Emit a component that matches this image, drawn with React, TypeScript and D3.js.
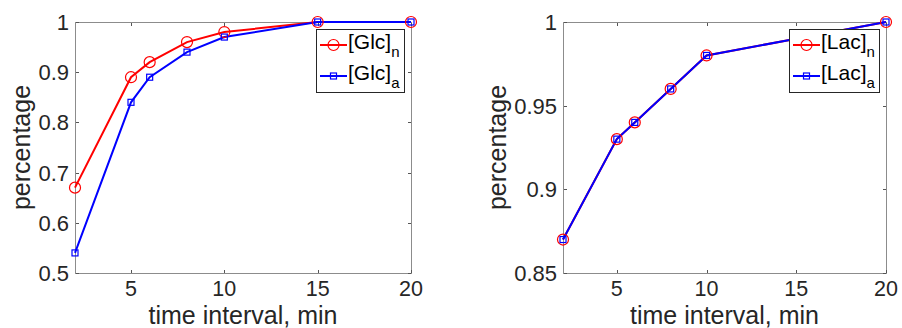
import { useEffect, useRef } from 'react';
import * as d3 from 'd3';

const glcTimes = [2, 5, 6, 8, 10, 15, 20];
const glcN = [0.67, 0.89, 0.92, 0.96, 0.98, 1, 1];
const glcA = [0.54, 0.84, 0.89, 0.94, 0.97, 1, 1];

const lacTimes = [2, 5, 6, 8, 10, 15, 20];
const lacN = [0.87, 0.93, 0.94, 0.96, 0.98, 0.99, 1];
const lacA = [0.87, 0.93, 0.94, 0.96, 0.98, 0.99, 1];

const xTicks = [5, 10, 15, 20];
const glcYTicks = [0.5, 0.6, 0.7, 0.8, 0.9, 1];
const lacYTicks = [0.85, 0.9, 0.95, 1];

const FONT = '"Liberation Sans", Arial, Helvetica, sans-serif';
const TEXT = '#262626';
const RED = '#ff0000';
const BLUE = '#0000ff';

interface Panel {
  left: number;
  right: number;
  yDomain: [number, number];
  yTicks: number[];
  times: number[];
  n: number[];
  a: number[];
  name: string;
  ylabelX: number;
  legendX: number;
  legendW: number;
}

const panels: Panel[] = [
  { left: 75, right: 411, yDomain: [0.5, 1], yTicks: glcYTicks, times: glcTimes, n: glcN, a: glcA,
    name: '[Glc]', ylabelX: 30, legendX: 316, legendW: 88 },
  { left: 563, right: 886, yDomain: [0.85, 1], yTicks: lacYTicks, times: lacTimes, n: lacN, a: lacA,
    name: '[Lac]', ylabelX: 506, legendX: 789, legendW: 90 },
];

export default function App() {
  const svgRef = useRef<SVGSVGElement>(null);

  useEffect(() => {
    if (!svgRef.current) return;
    const svg = d3.select(svgRef.current);
    svg.selectAll('*').remove();

    const top = 22;
    const bottom = 273;

    panels.forEach((p) => {
      const x = d3.scaleLinear().domain([2, 20]).range([p.left, p.right]);
      const y = d3.scaleLinear().domain(p.yDomain).range([bottom, top]);
      const g = svg.append('g');

      // box
      g.append('rect')
        .attr('x', p.left + 0.5).attr('y', top + 0.5)
        .attr('width', p.right - p.left).attr('height', bottom - top)
        .attr('fill', 'white').attr('stroke', '#8c8c8c').attr('stroke-width', 1);

      // inward ticks on all sides
      xTicks.forEach((t) => {
        const xp = Math.round(x(t)) + 0.5;
        g.append('line').attr('x1', xp).attr('x2', xp).attr('y1', bottom).attr('y2', bottom - 3)
          .attr('stroke', '#555');
        g.append('line').attr('x1', xp).attr('x2', xp).attr('y1', top + 1).attr('y2', top + 4)
          .attr('stroke', '#555');
        g.append('text').attr('x', x(t)).attr('y', 296).attr('text-anchor', 'middle')
          .style('font-family', FONT).style('font-size', '21.5px').style('fill', TEXT)
          .text(String(t));
      });
      p.yTicks.forEach((t) => {
        const yp = Math.round(y(t)) + 0.5;
        g.append('line').attr('x1', p.left + 1).attr('x2', p.left + 4).attr('y1', yp).attr('y2', yp)
          .attr('stroke', '#555');
        g.append('line').attr('x1', p.right).attr('x2', p.right - 3).attr('y1', yp).attr('y2', yp)
          .attr('stroke', '#555');
        g.append('text').attr('x', p.left - 6).attr('y', y(t) + 8).attr('text-anchor', 'end')
          .style('font-family', FONT).style('font-size', '22px').style('fill', TEXT)
          .text(d3.format('~g')(t));
      });

      // axis labels
      g.append('text').attr('x', (p.left + p.right) / 2).attr('y', 324).attr('text-anchor', 'middle')
        .style('font-family', FONT).style('font-size', '25px').style('fill', TEXT)
        .text('time interval, min');
      g.append('text')
        .attr('transform', `translate(${p.ylabelX},${(top + bottom) / 2}) rotate(-90)`)
        .attr('text-anchor', 'middle')
        .style('font-family', FONT).style('font-size', '25px').style('fill', TEXT)
        .text('percentage');

      const line = d3.line<number>().x((d, i) => x(p.times[i])).y((d) => y(d));

      g.append('path').datum(p.n).attr('d', line).attr('fill', 'none')
        .attr('stroke', RED).attr('stroke-width', 2);
      g.append('path').datum(p.a).attr('d', line).attr('fill', 'none')
        .attr('stroke', BLUE).attr('stroke-width', 2);

      g.selectAll('.mn').data(p.n).enter().append('circle')
        .attr('cx', (d, i) => x(p.times[i])).attr('cy', (d) => y(d)).attr('r', 5.5)
        .attr('fill', 'none').attr('stroke', RED).attr('stroke-width', 1.2);
      g.selectAll('.ma').data(p.a).enter().append('rect')
        .attr('x', (d, i) => x(p.times[i]) - 3).attr('y', (d) => y(d) - 3)
        .attr('width', 6).attr('height', 6)
        .attr('fill', 'none').attr('stroke', BLUE).attr('stroke-width', 1.2);

      // legend
      const lg = g.append('g');
      lg.append('rect').attr('x', p.legendX + 0.5).attr('y', 29.5)
        .attr('width', p.legendW).attr('height', 63)
        .attr('fill', 'white').attr('stroke', '#262626').attr('stroke-width', 1);
      const entries = [
        { sub: 'n', color: RED, marker: 'circle', y: 45 },
        { sub: 'a', color: BLUE, marker: 'square', y: 76 },
      ];
      entries.forEach((e) => {
        const x0 = p.legendX + 4;
        const x1 = p.legendX + 31;
        const cx = (x0 + x1) / 2;
        lg.append('line').attr('x1', x0).attr('x2', x1).attr('y1', e.y).attr('y2', e.y)
          .attr('stroke', e.color).attr('stroke-width', 2);
        if (e.marker === 'circle') {
          lg.append('circle').attr('cx', cx).attr('cy', e.y).attr('r', 5.5)
            .attr('fill', 'none').attr('stroke', e.color).attr('stroke-width', 1.2);
        } else {
          lg.append('rect').attr('x', cx - 3).attr('y', e.y - 3).attr('width', 6).attr('height', 6)
            .attr('fill', 'none').attr('stroke', e.color).attr('stroke-width', 1.2);
        }
        const t = lg.append('text').attr('x', x1 + 1).attr('y', e.y + 4)
          .style('font-family', FONT).style('font-size', '21px').style('fill', '#000');
        t.append('tspan').text(p.name);
        t.append('tspan').attr('dy', 8).style('font-size', '15px').text(e.sub);
      });
    });
  }, []);

  return (
    <svg ref={svgRef} width={902} height={328}
      style={{ position: 'absolute', left: 0, top: 0, background: 'white' }} />
  );
}
